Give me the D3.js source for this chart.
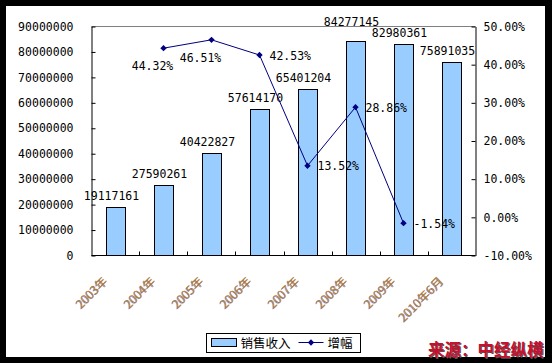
<!DOCTYPE html>
<html>
<head>
<meta charset="utf-8">
<script src="https://cdn.jsdelivr.net/npm/d3@7"></script>
<style>
  body { margin: 0; background: #000; }
  svg { display: block; }
  .num { font-family: "DejaVu Sans Mono", "Liberation Mono", monospace; font-size: 11.5px; fill: #000; }
  .cat { font-family: "Noto Sans CJK SC", "Liberation Sans", sans-serif; font-size: 12px; fill: #b87a1c; text-shadow: -1px 0 0 rgba(40,60,200,0.6); }
  .legend-text { font-family: "Noto Sans CJK SC", sans-serif; font-size: 12.5px; fill: #000; }
</style>
</head>
<body>
<div id="chart"></div>
<script>
const width = 552;
const height = 363;

// data
const categories = ["2003年", "2004年", "2005年", "2006年", "2007年", "2008年", "2009年", "2010年6月"];
const sales = [19117161, 27590261, 40422827, 57614170, 65401204, 84277145, 82980361, 75891035];
const growth = [null, 44.32, 46.51, 42.53, 13.52, 28.86, -1.54, null];
const growthLabelSide = [null, "below", "below", "right", "right", "right", "right", null];
const leftTicks = [0, 10000000, 20000000, 30000000, 40000000, 50000000, 60000000, 70000000, 80000000, 90000000];
const rightTicks = [-10, 0, 10, 20, 30, 40, 50];
const legendLabels = ["销售收入", "增幅"];
const sourceText = "来源：中经纵横";

const plot = { left: 91.5, right: 475.5, top: 26.5, bottom: 255.5 };

const svg = d3.select("#chart")
  .append("svg")
  .attr("width", width)
  .attr("height", height);

// white panel inside the black frame
svg.append("rect")
  .attr("x", 6).attr("y", 6)
  .attr("width", 539).attr("height", 351)
  .attr("fill", "#fff");

const x = d3.scaleBand()
  .domain(categories)
  .range([plot.left, plot.right])
  .paddingInner(0.6)
  .paddingOuter(0.3);

const y = d3.scaleLinear()
  .domain([0, 90000000])
  .range([plot.bottom, plot.top]);

const y2 = d3.scaleLinear()
  .domain([-10, 50])
  .range([plot.bottom, plot.top]);

// top border of plot area
svg.append("line")
  .attr("x1", plot.left).attr("x2", plot.right)
  .attr("y1", plot.top).attr("y2", plot.top)
  .attr("stroke", "#808080");

// bars
svg.selectAll("rect.bar")
  .data(sales)
  .enter()
  .append("rect")
  .attr("class", "bar")
  .attr("x", (d, i) => Math.round(x(categories[i])) + 0.5)
  .attr("y", d => Math.round(y(d)) + 0.5)
  .attr("width", Math.round(x.bandwidth()))
  .attr("height", d => plot.bottom - Math.round(y(d)) - 0.5)
  .attr("fill", "#99ccff")
  .attr("stroke", "#000");

// left axis
svg.append("g")
  .attr("transform", `translate(${plot.left},0)`)
  .call(d3.axisLeft(y).tickValues(leftTicks).tickFormat(d3.format("d"))
    .tickSizeInner(-4).tickSizeOuter(0).tickPadding(18))
  .call(g => g.selectAll("text").attr("class", "num").attr("font-size", null).attr("font-family", null))
  .call(g => g.selectAll("line,path").attr("stroke", "#000"));

// right axis
svg.append("g")
  .attr("transform", `translate(${plot.right},0)`)
  .call(d3.axisRight(y2).tickValues(rightTicks).tickFormat(d => d.toFixed(2) + "%")
    .tickSizeInner(-4).tickSizeOuter(0).tickPadding(8))
  .call(g => g.selectAll("text").attr("class", "num").attr("font-size", null).attr("font-family", null))
  .call(g => g.selectAll("line,path").attr("stroke", "#000"));

// bottom axis with ticks between categories
svg.append("line")
  .attr("x1", plot.left).attr("x2", plot.right)
  .attr("y1", plot.bottom).attr("y2", plot.bottom)
  .attr("stroke", "#000");

svg.selectAll("line.xtick")
  .data(categories.slice(1))
  .enter()
  .append("line")
  .attr("class", "xtick")
  .attr("x1", d => Math.round(x(d) - x.step() * x.paddingInner() / 2) + 0.5)
  .attr("x2", d => Math.round(x(d) - x.step() * x.paddingInner() / 2) + 0.5)
  .attr("y1", plot.bottom)
  .attr("y2", plot.bottom - 4)
  .attr("stroke", "#000");

// category labels, rotated
svg.selectAll("text.cat")
  .data(categories)
  .enter()
  .append("text")
  .attr("class", "cat")
  .attr("text-anchor", "end")
  .attr("transform", d => `translate(${x(d) + x.bandwidth() / 2 - 7},282) rotate(-45)`)
  .text(d => d);

// bar value labels, pushed up when they collide with the next one
const charW = 6.92;
const labelBoxes = sales.map((v, i) => {
  const cx = x(categories[i]) + x.bandwidth() / 2 - 4;
  const w = String(v).length * charW;
  return { v, cx, x0: cx - w / 2, x1: cx + w / 2, base: y(v) - 7 };
});
for (let i = labelBoxes.length - 2; i >= 0; i--) {
  const a = labelBoxes[i], b = labelBoxes[i + 1];
  const overlapX = a.x1 > b.x0 && b.x1 > a.x0;
  const overlapY = Math.abs(a.base - b.base) < 11;
  if (overlapX && overlapY) a.base = b.base - 11.5;
}

svg.selectAll("text.val")
  .data(labelBoxes)
  .enter()
  .append("text")
  .attr("class", "num val")
  .attr("text-anchor", "middle")
  .attr("x", d => d.cx)
  .attr("y", d => d.base)
  .text(d => d.v);

// growth line
const growthPts = growth.map((g, i) => ({ g, i, side: growthLabelSide[i] }))
  .filter(d => d.g !== null);

const line = d3.line()
  .x(d => x(categories[d.i]) + x.bandwidth() / 2)
  .y(d => y2(d.g));

svg.append("path")
  .datum(growthPts)
  .attr("d", line)
  .attr("fill", "none")
  .attr("stroke", "#000080")
  .attr("stroke-width", 1);

const diamond = d3.symbol(d3.symbolSquare, 20);

svg.selectAll("path.mark")
  .data(growthPts)
  .enter()
  .append("path")
  .attr("class", "mark")
  .attr("d", diamond)
  .attr("transform", d => `translate(${x(categories[d.i]) + x.bandwidth() / 2},${y2(d.g)}) rotate(45)`)
  .attr("fill", "#000080");

svg.selectAll("text.glab")
  .data(growthPts)
  .enter()
  .append("text")
  .attr("class", "num glab")
  .attr("text-anchor", d => d.side === "below" ? "middle" : "start")
  .attr("x", d => x(categories[d.i]) + x.bandwidth() / 2 + (d.side === "below" ? -11 : 10))
  .attr("y", d => y2(d.g) + (d.side === "below" ? 22 : 4.5))
  .text(d => d.g.toFixed(2) + "%");

// legend
const legend = svg.append("g").attr("transform", "translate(206.5,333.5)");
legend.append("rect")
  .attr("width", 154).attr("height", 19)
  .attr("fill", "#fff").attr("stroke", "#000");
legend.append("rect")
  .attr("x", 5).attr("y", 5).attr("width", 25).attr("height", 8)
  .attr("fill", "#99ccff").attr("stroke", "#000");
legend.append("text")
  .attr("class", "legend-text")
  .attr("x", 34).attr("y", 14)
  .text(legendLabels[0]);
legend.append("line")
  .attr("x1", 92).attr("x2", 117).attr("y1", 9).attr("y2", 9)
  .attr("stroke", "#000080");
legend.append("path")
  .attr("d", diamond)
  .attr("transform", "translate(104.5,9) rotate(45)")
  .attr("fill", "#000080");
legend.append("text")
  .attr("class", "legend-text")
  .attr("x", 121).attr("y", 14)
  .text(legendLabels[1]);

// source note
svg.append("text")
  .attr("x", 428)
  .attr("y", 356)
  .attr("font-family", "Noto Sans CJK SC, sans-serif")
  .attr("font-size", 16.5)
  .attr("font-weight", "bold")
  .attr("fill", "#c8102e")
  .style("text-shadow", "1px 1px 0 #555")
  .text(sourceText);
</script>
</body>
</html>
